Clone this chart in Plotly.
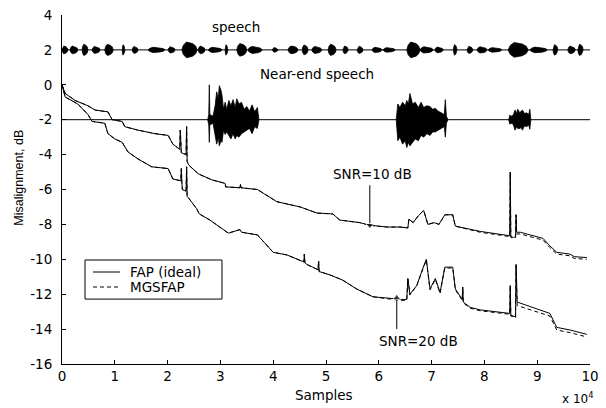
import plotly.graph_objects as go

# ---------------- data ----------------
# far-end speech bursts (samples): start, end, amplitude around the 2 dB offset
fe_start = [0, 1500, 3800, 5700, 8100, 11400, 13300, 16300, 20100, 22700, 25800, 27700,
            30900, 33100, 35200, 39800, 42800, 45500, 47300, 50400, 53200, 55900, 58700,
            60800, 65300, 67800, 70600, 74100, 76700, 78600, 80700, 84500, 88600, 93000,
            95800, 97700]
fe_end = [1100, 3000, 4900, 7200, 9700, 11900, 14400, 19500, 21400, 25600, 27100, 30300,
          31400, 35000, 37900, 40900, 44700, 46600, 49200, 51900, 54200, 57000, 60600,
          63100, 67800, 70300, 72200, 74800, 77800, 80500, 83300, 88300, 91900, 93900,
          97200, 98700]
fe_amp = [0.22, 0.22, 0.32, 0.2, 0.32, 0.3, 0.2, 0.15, 0.18, 0.45, 0.22, 0.15,
          0.3, 0.36, 0.2, 0.13, 0.22, 0.28, 0.2, 0.32, 0.22, 0.2, 0.15,
          0.13, 0.45, 0.18, 0.16, 0.3, 0.2, 0.18, 0.13, 0.42, 0.16, 0.3,
          0.22, 0.32]
fe_offset = 2

# near-end speech envelope (samples), upper / lower amplitude around -2 dB
ne_x = [[27600, 27800, 27900, 28000, 28600, 29000, 29300, 29600, 29800, 30100, 30300,
         30600, 30900, 31200, 31600, 32000, 32400, 32800, 33100, 33500, 34000, 34500,
         35000, 35500, 36000, 36500, 37000, 37300],
        [63300, 63600, 64000, 64500, 65000, 65300, 65600, 65900, 66400, 66900, 67500,
         68000, 68500, 69100, 69700, 70200, 70700, 71200, 71800, 72400, 72600, 72800,
         73100],
        [84600, 84800, 85200, 85500, 85800, 86100, 86300, 86700, 87000, 87200, 87600,
         88000, 88400, 88600, 88800]]
ne_up = [[0, 0.3, 2.0, 0.3, 0.2, 0.8, 1.6, 1.2, 1.95, 1.7, 1.4, 0.6, 1.0, 0.6, 1.1,
          0.8, 1.15, 0.7, 1.2, 0.9, 1.0, 0.6, 0.75, 0.5, 0.85, 0.45, 0.7, 0],
         [0, 0.9, 0.7, 1.0, 0.8, 1.1, 0.9, 1.5, 0.9, 1.0, 0.7, 1.0, 0.7, 0.8, 0.75,
          0.6, 0.65, 0.5, 0.4, 0.3, 1.15, 0.2, 0],
         [0, 0.25, 0.2, 0.3, 0.55, 0.35, 0.6, 0.4, 0.5, 0.55, 0.35, 0.4, 0.3, 0.6, 0]]
ne_dn = [[0, 0.3, 1.3, 0.3, 0.2, 0.8, 1.4, 1.0, 1.5, 1.2, 1.3, 0.6, 0.85, 0.7, 0.9,
          1.1, 0.8, 1.1, 0.9, 1.0, 0.8, 0.7, 0.6, 0.5, 0.8, 0.4, 0.5, 0],
         [0, 1.2, 1.0, 1.4, 1.2, 1.6, 1.3, 1.5, 1.3, 1.1, 1.2, 0.9, 1.0, 0.8, 0.9,
          0.7, 0.7, 0.6, 0.5, 0.4, 1.0, 0.2, 0],
         [0, 0.25, 0.2, 0.3, 0.6, 0.4, 0.5, 0.5, 0.45, 0.6, 0.35, 0.4, 0.3, 0.55, 0]]
ne_offset = -2

# misalignment curves (samples, dB)
x10 = [0, 600, 2500, 4900, 6300, 8700, 9500, 11400, 11900, 14400, 17600, 20100, 21000,
       22300, 22400, 22500, 22600, 23500, 23600, 23700, 24000, 25800, 28400, 30900, 31000,
       33700, 33800, 33900, 37000, 40700, 45100, 48300, 51300, 52600, 56400, 58300, 61500,
       64000, 65500, 65700, 66500, 67500, 68500, 69300, 70500, 71400, 72500, 74000, 74500,
       79200, 84300, 84800, 84900, 85000, 85500, 85900, 86000, 86100, 86800, 91100, 92300,
       93700, 96200, 97000, 99400]
fap10 = [0, -0.5, -0.9, -1.2, -1.45, -1.55, -2.0, -2.1, -2.4, -2.6, -2.8, -2.9, -3.4,
         -3.7, -2.6, -3.8, -3.9, -4.0, -2.4, -4.4, -4.6, -5.1, -5.45, -5.65, -5.85,
         -5.9, -5.7, -5.9, -6.0, -6.7, -7.0, -7.35, -7.4, -7.75, -7.9, -8.05, -8.15,
         -8.15, -8.2, -7.7, -7.9, -7.5, -7.2, -8.0, -7.9, -8.0, -7.45, -7.45, -8.1,
         -8.4, -8.6, -8.65, -5.0, -8.7, -8.75, -8.7, -7.45, -8.45, -8.45, -8.8, -9.2,
         -9.6, -9.7, -9.85, -9.9]
mgs10 = [0, -0.5, -0.9, -1.2, -1.45, -1.55, -2.0, -2.1, -2.4, -2.6, -2.8, -2.9, -3.4,
         -3.7, -2.6, -3.8, -3.9, -4.0, -2.4, -4.4, -4.6, -5.1, -5.45, -5.65, -5.85,
         -5.9, -5.7, -5.9, -6.0, -6.7, -7.0, -7.35, -7.4, -7.75, -7.9, -8.05, -8.15,
         -8.15, -8.2, -7.7, -7.9, -7.5, -7.2, -8.0, -7.9, -8.0, -7.45, -7.45, -8.1,
         -8.45, -8.65, -8.7, -5.0, -8.75, -8.8, -8.75, -7.45, -8.55, -8.55, -8.9, -9.3,
         -9.7, -9.8, -9.95, -10.0]

x20 = [0, 600, 3000, 4900, 5700, 8100, 8700, 10000, 11400, 12500, 14400, 17000, 20100,
       21000, 22500, 22600, 22700, 22800, 23500, 23600, 23700, 24000, 25500, 26000, 28000,
       30900, 31500, 33700, 34000, 37000, 40000, 42600, 45800, 45900, 46000, 46400, 48500,
       48600, 48700, 50800, 53200, 55800, 58900, 62700, 64000, 65300, 65500, 65900, 67200,
       68300, 69000, 69700, 70700, 71600, 72500, 74000, 74500, 75800, 75900, 76000, 77300,
       79200, 84300, 84800, 84900, 85000, 85900, 86000, 86200, 89200, 92400, 93700, 96200,
       99400]
fap20 = [0, -0.7, -1.1, -1.7, -2.1, -2.2, -2.8, -3.1, -3.3, -3.85, -4.25, -4.7, -4.8,
         -5.4, -5.5, -4.8, -5.6, -6.0, -6.1, -4.7, -6.4, -6.5, -7.1, -7.4, -7.75, -8.4,
         -8.5, -8.3, -8.45, -8.6, -9.6, -9.75, -10.15, -9.7, -10.2, -10.3, -10.6, -10.1,
         -10.7, -10.9, -11.2, -11.7, -12.15, -12.25, -12.3, -12.3, -11.1, -12.0, -11.5,
         -10.55, -10.0, -11.7, -11.1, -11.9, -10.45, -10.45, -11.7, -12.3, -11.6, -12.45,
         -12.75, -12.9, -13.1, -13.1, -11.5, -13.2, -13.3, -10.3, -12.45, -12.75, -13.1,
         -13.9, -14.05, -14.3]
mgs20 = [0, -0.7, -1.1, -1.7, -2.1, -2.2, -2.8, -3.1, -3.3, -3.85, -4.25, -4.7, -4.8,
         -5.4, -5.5, -4.8, -5.6, -6.0, -6.1, -4.7, -6.4, -6.5, -7.1, -7.4, -7.75, -8.4,
         -8.5, -8.3, -8.45, -8.6, -9.6, -9.75, -10.15, -9.7, -10.2, -10.3, -10.6, -10.1,
         -10.7, -10.9, -11.2, -11.7, -12.15, -12.3, -12.35, -12.35, -11.1, -12.05, -11.5,
         -10.6, -10.05, -11.75, -11.15, -11.95, -10.5, -10.5, -11.75, -12.35, -11.6, -12.5,
         -12.8, -12.95, -13.15, -13.15, -11.5, -13.25, -13.35, -10.3, -12.65, -12.95, -13.25,
         -14.05, -14.2, -14.45]

# arrows pointing at the two curves: x, tail y, head y
arrow_x = [58300, 63400]
arrow_tail = [-5.76, -14.0]
arrow_head = [-8.05, -12.2]

x_ticks = [0, 10000, 20000, 30000, 40000, 50000, 60000, 70000, 80000, 90000, 100000]
x_tick_text = ["0", "1", "2", "3", "4", "5", "6", "7", "8", "9", "10"]
y_ticks = [-16, -14, -12, -10, -8, -6, -4, -2, 0, 2, 4]
y_tick_text = ["-16", "-14", "-12", "-10", "-8", "-6", "-4", "-2", "0", "2", "4"]

# ---------------- figure ----------------
FONT = "DejaVu Sans"
FS = 13.5
DASH = "4px,3px"
fig = go.Figure()

# baselines of the two speech signals
fig.add_trace(go.Scatter(x=[0, 100000], y=[fe_offset, fe_offset], mode="lines",
                         line=dict(color="black", width=1), showlegend=False, hoverinfo="skip"))
fig.add_trace(go.Scatter(x=[0, 100000], y=[ne_offset, ne_offset], mode="lines",
                         line=dict(color="black", width=1), showlegend=False, hoverinfo="skip"))

# far-end speech blobs
px, py = [], []
for s, e, a in zip(fe_start, fe_end, fe_amp):
    w = e - s
    px += [s, s + 0.1 * w, s + 0.3 * w, s + 0.7 * w, e - 0.1 * w, e,
           e - 0.1 * w, s + 0.7 * w, s + 0.3 * w, s + 0.1 * w, s, None]
    py += [fe_offset, fe_offset + 0.6 * a, fe_offset + a, fe_offset + 0.8 * a, fe_offset + 0.5 * a, fe_offset,
           fe_offset - 0.5 * a, fe_offset - 0.8 * a, fe_offset - a, fe_offset - 0.6 * a, fe_offset, None]
fig.add_trace(go.Scatter(x=px, y=py, mode="lines", fill="toself", fillcolor="black",
                         line=dict(color="black", width=0.8), showlegend=False, hoverinfo="skip"))

# near-end speech bursts
for xs, up, dn in zip(ne_x, ne_up, ne_dn):
    bx = list(xs) + list(reversed(xs))
    by = [ne_offset + u for u in up] + [ne_offset - d for d in reversed(dn)]
    fig.add_trace(go.Scatter(x=bx, y=by, mode="lines", fill="toself", fillcolor="black",
                             line=dict(color="black", width=0.8), showlegend=False, hoverinfo="skip"))

# misalignment curves
fig.add_trace(go.Scatter(x=x10, y=fap10, mode="lines", name="FAP (ideal)", showlegend=False,
                         line=dict(color="black", width=1)))
fig.add_trace(go.Scatter(x=x10, y=mgs10, mode="lines", name="MGSFAP", showlegend=False,
                         line=dict(color="black", width=1, dash=DASH)))
fig.add_trace(go.Scatter(x=x20, y=fap20, mode="lines", name="FAP (ideal)", showlegend=False,
                         line=dict(color="black", width=1)))
fig.add_trace(go.Scatter(x=x20, y=mgs20, mode="lines", name="MGSFAP", showlegend=False,
                         line=dict(color="black", width=1, dash=DASH)))

# arrows
for ax_, t_, h_ in zip(arrow_x, arrow_tail, arrow_head):
    sym = "triangle-down" if h_ < t_ else "triangle-up"
    fig.add_trace(go.Scatter(x=[ax_, ax_], y=[t_, h_], mode="lines+markers", showlegend=False,
                             line=dict(color="black", width=1), hoverinfo="skip",
                             marker=dict(symbol=["circle", sym], size=[0, 7], color="black")))

ann_font = dict(family=FONT, size=FS, color="black")
annotations = [
    dict(x=33000, y=3.3, xref="x", yref="y", text="speech", showarrow=False, font=ann_font,
         xanchor="center"),
    dict(x=48200, y=0.6, xref="x", yref="y", text="Near-end speech", showarrow=False, font=ann_font,
         xanchor="center"),
    dict(x=58900, y=-5.13, xref="x", yref="y", text="SNR=10 dB", showarrow=False, font=ann_font,
         xanchor="center"),
    dict(x=67600, y=-14.68, xref="x", yref="y", text="SNR=20 dB", showarrow=False, font=ann_font,
         xanchor="center"),
    dict(x=0.497, y=-0.0888, xref="paper", yref="paper", text="Samples", showarrow=False,
         font=ann_font, xanchor="center", yanchor="middle"),
    dict(x=0.977, y=-0.0974, xref="paper", yref="paper", text="x 10<sup>4</sup>", showarrow=False,
         font=dict(family=FONT, size=12, color="black"), xanchor="center", yanchor="middle"),
    dict(x=-0.0814, y=0.534, xref="paper", yref="paper", text="Misalignment, dB", showarrow=False,
         textangle=-90, xanchor="center", yanchor="middle",
         font=dict(family="Liberation Sans", size=12.5, color="black")),
    # legend texts
    dict(x=0.125, y=0.2636, xref="paper", yref="paper", text="FAP (ideal)", showarrow=False,
         xanchor="left", yanchor="middle", font=ann_font),
    dict(x=0.125, y=0.2206, xref="paper", yref="paper", text="MGSFAP", showarrow=False,
         xanchor="left", yanchor="middle", font=ann_font),
]

shapes = [
    dict(type="rect", xref="paper", yref="paper", x0=0.0436, x1=0.303, y0=0.186, y1=0.298,
         line=dict(color="black", width=1), fillcolor="white", layer="above"),
    dict(type="line", xref="paper", yref="paper", x0=0.0587, x1=0.1098, y0=0.2636, y1=0.2636,
         line=dict(color="black", width=1)),
    dict(type="line", xref="paper", yref="paper", x0=0.0587, x1=0.1098, y0=0.2206, y1=0.2206,
         line=dict(color="black", width=1, dash=DASH)),
]

axis_common = dict(showline=True, linecolor="black", linewidth=1, ticks="inside", ticklen=4,
                   tickcolor="black", showgrid=False, zeroline=False, mirror=False,
                   automargin=False, ticklabeloverflow="allow",
                   tickfont=dict(family=FONT, size=FS, color="black"))

# the page body adds an 8 px offset, so the margins compensate for it
fig.update_layout(
    width=606, height=408,
    margin=dict(l=54, r=24, t=7, b=52),
    paper_bgcolor="white", plot_bgcolor="white",
    xaxis=dict(range=[0, 100000], tickvals=x_ticks, ticktext=x_tick_text, **axis_common),
    yaxis=dict(range=[-16, 4], tickvals=y_ticks, ticktext=y_tick_text, ticklabelstandoff=6,
               **axis_common),
    annotations=annotations,
    shapes=shapes,
    showlegend=False,
)

fig.write_html("out.html")
